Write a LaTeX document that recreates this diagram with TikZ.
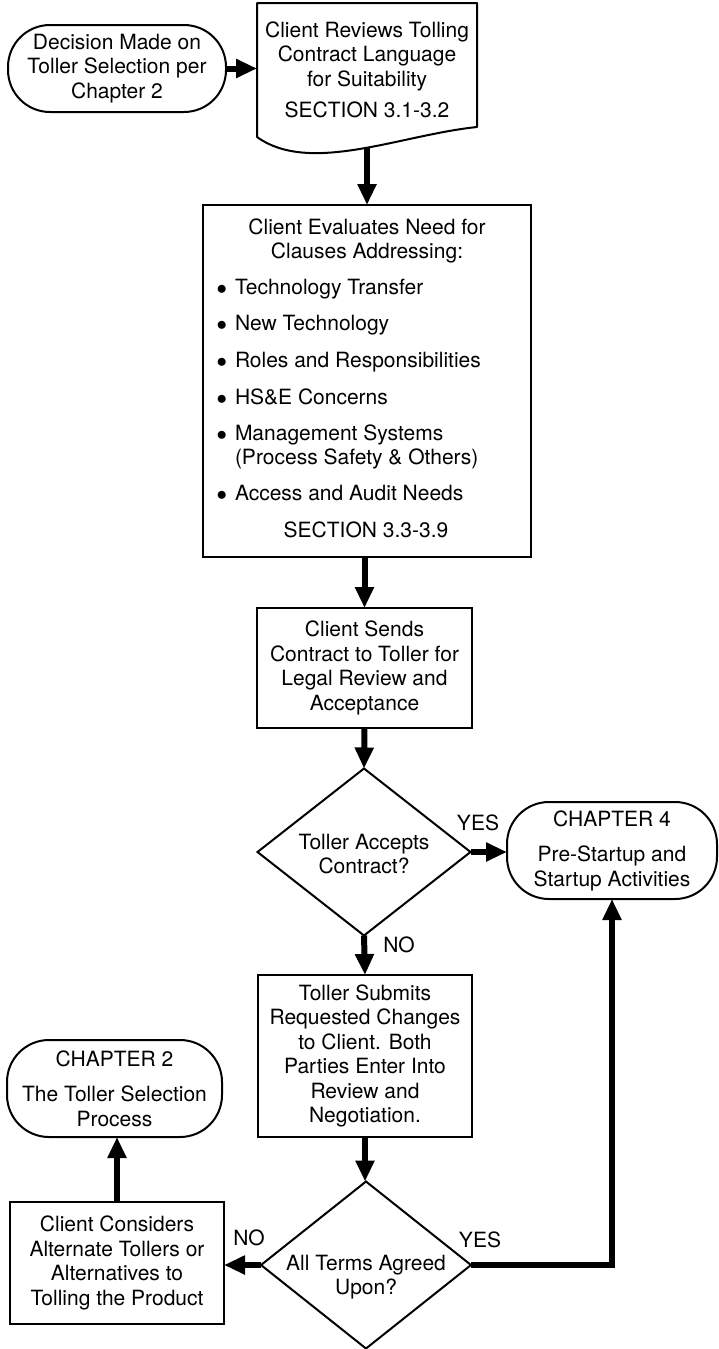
\documentclass[tikz,border=0pt]{standalone}
\usepackage{fontspec}
\setmainfont{TeX Gyre Heros}
\usetikzlibrary{arrows.meta,shapes.geometric}
\newcommand{\itemdot}{\llap{$\bullet$\hspace{8pt}}}
\begin{document}
\begin{tikzpicture}[x=1pt,y=-1pt,
  every node/.style={font=\fontsize{21}{24.5}\selectfont, inner sep=0pt, outer sep=0pt},
  outline/.style={draw, line width=2pt},
  procbox/.style={outline, rectangle, align=center},
  terminal/.style={outline, rectangle, rounded corners=42pt, align=center},
  decision/.style={outline, diamond},
  flow/.style={line width=6pt, -{Triangle[length=21pt,width=18pt]}},
  txt/.style={align=center},
  item/.style={anchor=base west}
]
\useasboundingbox (0,0) rectangle (718,1349);

% entry point and the reviewed contract document
\node[terminal, minimum width=218pt, minimum height=87pt] (start) at (117,68.5)
  {Decision Made on\\Toller Selection per\\Chapter 2};
\node[txt, minimum width=220pt, minimum height=134pt] (doc) at (367,70)
  {Client Reviews Tolling\\Contract Language\\for Suitability\\[7pt]SECTION 3.1-3.2};
\draw[outline, line join=round] (257,3) -- (477,3) -- (477,127)
  .. controls (400,135) and (310,175) .. (257,137) -- cycle;
\coordinate (docbot) at (367,147.5);

% clause evaluation
\node[procbox, minimum width=328pt, minimum height=352pt] (evaluate) at (367,381) {};
\node[txt] (evalhead) at (367,241) {Client Evaluates Need for\\Clauses Addressing:};
\node[item] (itemA) at (235,294) {\itemdot Technology Transfer};
\node[item] (itemB) at (235,330) {\itemdot New Technology};
\node[item] (itemC) at (235,367) {\itemdot Roles and Responsibilities};
\node[item] (itemD) at (235,404) {\itemdot HS\&E Concerns};
\node[item] (itemE) at (235,440) {\itemdot Management Systems};
\node[item] (itemE2) at (235,464) {(Process Safety \& Others)};
\node[item] (itemF) at (235,500) {\itemdot Access and Audit Needs};
\node (evalref) at (366,530) {SECTION 3.3-3.9};

% sending the contract and the toller's answer
\node[procbox, minimum width=215pt, minimum height=120pt] (send) at (364.5,668)
  {Client Sends\\Contract to Toller for\\Legal Review and\\Acceptance};
\node[decision, minimum width=213pt, minimum height=167pt] (accept) at (364,852) {};
\node[txt] (acceptq) at (364,854) {Toller Accepts\\Contract?};
\node[terminal, minimum width=210pt, minimum height=97pt] (ch4) at (612,850.5)
  {CHAPTER 4\\[11pt]Pre-Startup and\\Startup Activities};

% negotiation loop
\node[procbox, minimum width=214pt, minimum height=162pt] (submit) at (365,1056)
  {Toller Submits\\Requested Changes\\to Client. Both\\Parties Enter Into\\Review and\\Negotiation.};
\node[decision, minimum width=210pt, minimum height=167pt] (agreed) at (366,1265) {};
\node[txt] (agreedq) at (366,1277) {All Terms Agreed\\Upon?};
\node[terminal, minimum width=215pt, minimum height=97pt] (ch2) at (114.5,1088.5)
  {CHAPTER 2\\[11pt]The Toller Selection\\Process};
\node[procbox, minimum width=214pt, minimum height=122pt] (consider) at (117,1263)
  {Client Considers\\Alternate Tollers or\\Alternatives to\\Tolling the Product};

% connectors
\draw[flow] (start.east) -- (start.east -| doc.west);
\draw[flow] (docbot) -- (evaluate.north);
\draw[flow] (evaluate.south -| send.north) -- (send.north);
\draw[flow] (send.south) -- (accept.north);
\draw[flow] (accept.east) -- (accept.east -| ch4.west);
\draw[flow] (accept.south) -- (submit.north);
\draw[flow] (submit.south) -- (submit.south |- agreed.north);
\draw[flow] (agreed.west) -- (agreed.west -| consider.east);
\draw[flow] (agreed.east) -| (ch4.south);
\draw[flow] (consider.north) -- (consider.north |- ch2.south);

% branch labels
\node (yes1) at (478,823) {YES};
\node (no1) at (399,945) {NO};
\node (no2) at (249,1238) {NO};
\node (yes2) at (480,1240) {YES};
\end{tikzpicture}
\end{document}
